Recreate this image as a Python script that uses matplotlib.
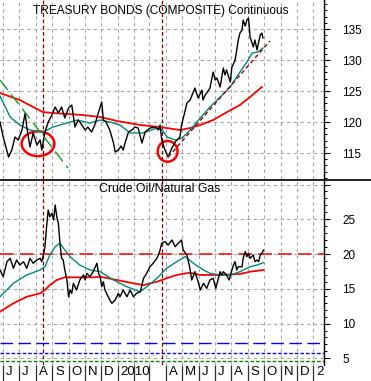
import pandas as pd
import matplotlib
matplotlib.use('Agg')
import matplotlib.pyplot as plt
import matplotlib.dates as mdates
from matplotlib.patches import Ellipse
from matplotlib.lines import Line2D
from matplotlib.ticker import MultipleLocator
from matplotlib.transforms import ScaledTranslation

plt.rcParams['font.family'] = ['Liberation Sans', 'DejaVu Sans']

# x positions are days counted from this date
start = pd.Timestamp('2009-05-26')
x_end_day = 605

# Treasury bonds (composite), continuous contract
tb_days = [0, 6, 9, 16, 22, 28, 34, 41, 47, 50, 56, 62, 69, 75, 78, 84, 90, 97, 103, 109,
           115, 121, 128, 134, 140, 146, 153, 159, 164, 171, 177, 184, 190, 193, 198, 205,
           212, 215, 221, 226, 230, 234, 240, 246, 252, 258, 265, 271, 280, 290, 296, 299,
           302, 308, 314, 321, 327, 336, 339, 346, 349, 355, 361, 364, 370, 377, 379, 383,
           386, 392, 398, 402, 405, 411, 417, 420, 423, 430, 433, 435, 439, 442, 445, 448,
           452, 454, 458, 461, 464, 467, 470, 473, 476, 480, 483, 486, 489, 491]
tb_close = [120.0, 117.58, 116.61, 114.35, 115.48, 117.58, 117.1, 118.71, 121.45, 119.19,
            115.97, 118.23, 116.29, 117.1, 115.48, 118.39, 120.0, 121.13, 122.42, 121.45,
            122.42, 120.65, 122.26, 122.74, 119.19, 120.32, 119.52, 118.71, 119.19, 118.39,
            119.52, 121.61, 123.23, 120.32, 120.0, 118.71, 116.61, 115.16, 115.48, 116.13,
            115.48, 116.77, 118.39, 118.71, 119.19, 119.03, 116.61, 118.39, 119.03, 119.19,
            118.71, 119.52, 117.1, 115.48, 114.35, 115.81, 116.77, 117.58, 119.52, 121.94,
            123.06, 123.55, 124.84, 125.48, 123.87, 125.16, 123.55, 124.35, 124.68, 125.48,
            128.06, 126.77, 127.1, 125.65, 128.71, 127.58, 128.39, 126.45, 128.87, 129.19,
            130.0, 131.61, 133.23, 134.35, 134.84, 136.45, 135.48, 136.45, 136.77, 133.71,
            132.9, 132.1, 133.23, 131.61, 132.9, 134.03, 134.35, 133.55]

tb_ma_short_days = [0, 19, 37, 56, 80, 99, 125, 144, 168, 187, 205, 224, 243, 267, 293, 303,
                    312, 327, 340, 355, 374, 392, 411, 430, 448, 461, 471, 482, 491]
tb_ma_short = [124.19, 120.81, 119.52, 118.71, 118.39, 119.19, 119.84, 120.32, 119.84, 120.32,
               120.0, 119.52, 118.23, 118.23, 119.03, 118.71, 117.58, 117.1, 117.42, 118.71,
               120.65, 122.42, 124.03, 125.65, 128.06, 129.68, 131.13, 131.29, 131.94]

tb_ma_long_days = [0, 37, 80, 99, 155, 187, 219, 262, 299, 336, 355, 374, 398, 424, 448, 467, 489]
tb_ma_long = [124.68, 123.55, 121.61, 121.45, 121.13, 120.81, 120.16, 119.52, 119.19, 118.71,
              119.03, 119.52, 120.32, 121.61, 122.74, 124.03, 125.65]

# trendlines drawn on the bond chart
tb_down_days = [0, 127]
tb_down = [126.77, 112.58]
tb_up_days = [314, 504]
tb_up = [114.35, 133.06]

# circled lows: (center day, center value, width in days, height in points)
circles = [(71, 116.5, 61, 4.0), (313, 115.27, 37, 3.34)]

# vertical markers
marker_days = [81, 302]

# Crude oil / natural gas ratio
cn_days = [0, 6, 13, 19, 25, 31, 37, 44, 50, 56, 62, 69, 75, 78, 81, 84, 87, 90, 93, 97, 100,
           103, 106, 109, 112, 115, 118, 121, 125, 128, 131, 134, 137, 143, 149, 156, 159, 162,
           168, 174, 181, 184, 187, 190, 193, 196, 199, 205, 209, 215, 221, 224, 230, 237, 243,
           249, 255, 262, 265, 268, 274, 280, 286, 293, 298, 302, 308, 314, 321, 327, 333, 339,
           342, 349, 354, 358, 364, 369, 374, 380, 386, 392, 398, 403, 407, 411, 414, 417, 423,
           428, 433, 436, 439, 442, 445, 452, 454, 458, 461, 464, 467, 473, 476, 480, 483, 486,
           489, 492]
cn_ratio = [17.71, 16.74, 18.9, 19.39, 17.95, 19.14, 18.42, 18.9, 17.95, 19.39, 18.67, 19.14,
            19.39, 18.9, 19.86, 21.06, 23.94, 26.34, 25.37, 25.86, 24.9, 27.06, 25.37, 24.42,
            21.55, 19.39, 19.14, 17.71, 16.27, 13.86, 14.83, 14.35, 15.79, 14.83, 16.27, 16.99,
            16.27, 17.23, 16.74, 17.46, 18.67, 17.23, 16.74, 15.3, 16.02, 14.83, 14.35, 13.39,
            12.91, 13.39, 14.35, 13.86, 14.83, 13.86, 14.83, 13.86, 14.35, 14.58, 15.55, 16.51,
            17.23, 18.18, 18.67, 19.39, 20.34, 21.55, 21.78, 21.3, 22.02, 21.06, 21.55, 22.02,
            20.58, 19.86, 18.18, 16.27, 17.46, 16.27, 14.83, 15.79, 15.07, 16.27, 16.51, 15.07,
            16.27, 17.46, 16.99, 17.46, 16.99, 16.27, 17.71, 18.42, 18.9, 17.71, 18.18, 18.18,
            19.39, 20.34, 19.62, 20.11, 19.39, 19.86, 18.9, 19.14, 18.9, 19.86, 20.11, 20.58]

cn_ma_short_days = [0, 25, 50, 75, 84, 93, 103, 112, 121, 131, 149, 168, 187, 212, 237, 262,
                    274, 293, 311, 330, 346, 361, 380, 392, 411, 430, 448, 467, 480, 492]
cn_ma_short = [13.86, 15.79, 16.99, 17.71, 18.18, 19.86, 21.06, 21.55, 20.58, 19.62, 18.42,
               17.71, 17.46, 16.27, 15.3, 14.58, 15.3, 16.51, 17.95, 18.9, 19.62, 18.67, 17.71,
               17.23, 16.99, 16.99, 17.46, 18.18, 18.42, 18.76]

cn_ma_long_days = [0, 25, 50, 75, 84, 93, 106, 121, 143, 174, 187, 218, 249, 268, 293, 311,
                   330, 355, 374, 411, 448, 467, 492]
cn_ma_long = [11.71, 12.91, 13.86, 14.35, 14.83, 15.53, 16.27, 16.65, 16.65, 16.65, 16.74,
              16.27, 15.79, 15.53, 16.02, 16.51, 16.99, 17.32, 16.99, 16.99, 17.13, 17.46, 17.71]

# horizontal reference levels on the ratio chart
ref_red = 20
ref_blue_long = 7.16
ref_blue_short = 5.72
ref_green_short = 4.61

month_labels = ['J', 'J', 'A', 'S', 'O', 'N', 'D', '2010', '', '', 'A', 'M', 'J', 'J',
                'A', 'S', 'O', 'N', 'D', '2']


def to_dates(days):
    return start + pd.to_timedelta(days, unit='D')


fig = plt.figure(figsize=(3.71, 3.81), dpi=100)
ax1 = fig.add_axes([0, (381 - 179) / 381, 324 / 371, 179 / 381])
ax2 = fig.add_axes([0, (381 - 365) / 381, 324 / 371, 185 / 381])

months = pd.date_range('2009-06-01', '2011-01-01', freq='MS')
grid_kw = dict(color='#a6a6a6', linestyle=(0, (3, 3)), linewidth=0.8)

for ax in (ax1, ax2):
    ax.set_xlim(start, start + pd.Timedelta(days=x_end_day))
    ax.set_xticks(months)
    ax.yaxis.tick_right()
    for side in ('top', 'left', 'bottom'):
        ax.spines[side].set_visible(False)
    ax.spines['right'].set_linewidth(1.0)
    ax.yaxis.set_minor_locator(MultipleLocator(1))
    ax.tick_params(axis='y', which='major', length=4.3, width=0.8, pad=9, labelsize=8.5)
    ax.tick_params(axis='y', which='minor', length=2.2, width=0.7)
    ax.grid(True, **grid_kw)
    ax.set_axisbelow(True)
    for d in marker_days:
        ax.axvline(to_dates([d])[0], color='#800000', linestyle=(0, (3, 2)), linewidth=0.9)

# top panel: treasury bonds
ax1.set_ylim(110.81, 139.68)
ax1.yaxis.set_major_locator(MultipleLocator(5))
ax1.tick_params(axis='x', length=0, labelbottom=False)
ax1.plot(to_dates(tb_ma_long_days), tb_ma_long, color='#ff0000', lw=1.3)
ax1.plot(to_dates(tb_ma_short_days), tb_ma_short, color='#00897b', lw=1.0)
ax1.plot(to_dates(tb_days), tb_close, color='black', lw=1.0)
ax1.plot(to_dates(tb_down_days), tb_down, color='#1a9a1a', lw=1.0, linestyle=(0, (9, 4)))
ax1.plot(to_dates(tb_up_days), tb_up, color='#a00000', lw=1.0, linestyle=(0, (3, 2)))
for cx, cy, w, h in circles:
    ax1.add_patch(Ellipse((mdates.date2num(to_dates([cx])[0]), cy), w, h,
                          fill=False, edgecolor='#ff0000', lw=1.8))
ax1.text(0.495, 0.941, 'TREASURY BONDS (COMPOSITE) Continuous', transform=ax1.transAxes,
         ha='center', va='center', fontsize=8.6)

# bottom panel: crude oil / natural gas
ax2.set_ylim(4.04, 30.65)
ax2.set_yticks([5, 10, 15, 20, 25, 30], ['5', '10', '15', '20', '25', ''])
ax2.axhline(ref_red, color='#ff0000', lw=1.1, linestyle=(0, (9, 4)))
ax2.axhline(ref_blue_long, color='#0000ff', lw=1.0, linestyle=(0, (9, 4)))
ax2.axhline(ref_blue_short, color='#0000ff', lw=1.0, linestyle=(0, (2.5, 1.5)))
ax2.axhline(ref_green_short, color='#008000', lw=1.0, linestyle=(0, (2.5, 1.5)))
ax2.plot(to_dates(cn_ma_long_days), cn_ma_long, color='#ff0000', lw=1.3)
ax2.plot(to_dates(cn_ma_short_days), cn_ma_short, color='#00897b', lw=1.0)
ax2.plot(to_dates(cn_days), cn_ratio, color='black', lw=1.0)
ax2.text(0.494, 0.951, 'Crude Oil/Natural Gas', transform=ax2.transAxes,
         ha='center', va='center', fontsize=8.8)

ax2.set_xticklabels(month_labels)
ax2.tick_params(axis='x', length=11.5, width=0.9, color='#303030', pad=-11, labelsize=9.5)
shift = ScaledTranslation(2 / 72, 0, fig.dpi_scale_trans)
for lbl in ax2.get_xticklabels():
    lbl.set_horizontalalignment('left')
    lbl.set_transform(lbl.get_transform() + shift)

# divider between the two panels
fig.add_artist(Line2D([0, 1], [1 - 179.5 / 381] * 2, color='black', lw=1.2))

fig.savefig('out.png', dpi=100, facecolor='white')
